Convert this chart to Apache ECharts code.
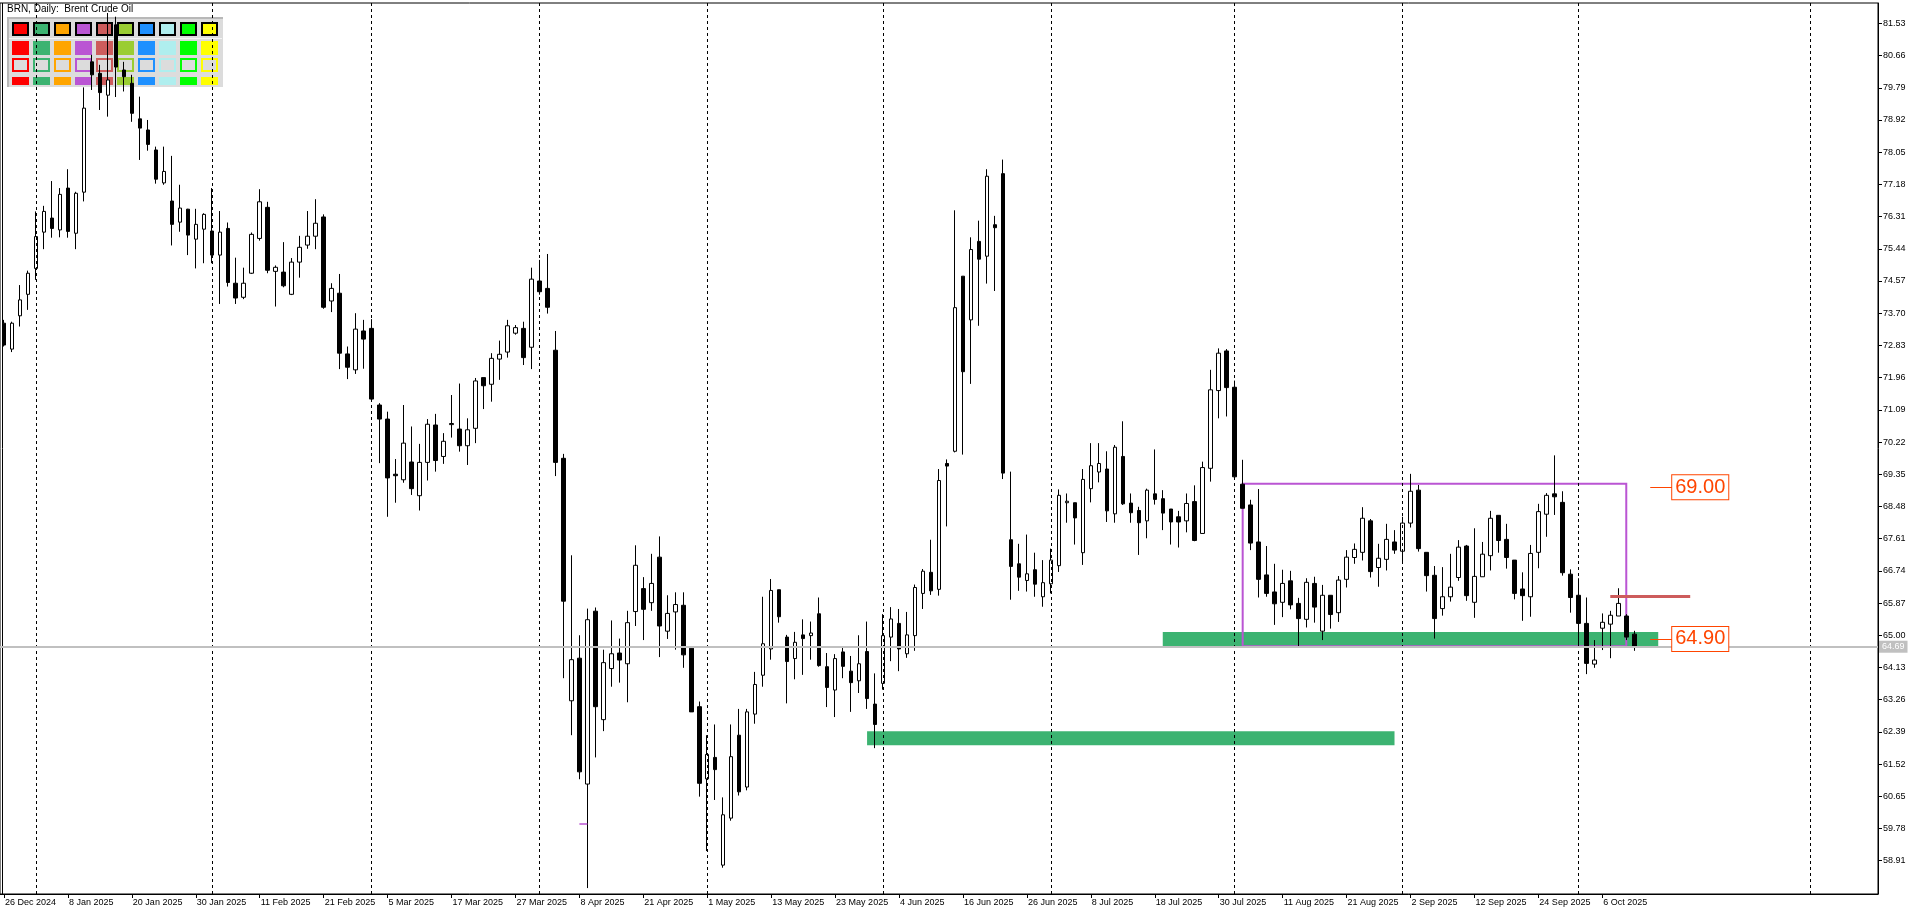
<!DOCTYPE html>
<html><head><meta charset="utf-8">
<script src="https://cdn.jsdelivr.net/npm/echarts@6/dist/echarts.min.js"></script>
<style>html,body{margin:0;padding:0;background:#fff;}#chart{width:1920px;height:915px;}</style>
</head><body><div id="chart"></div>
<script>
// ---------- data ----------
const chartTitle = 'BRN, Daily:  Brent Crude Oil';
const firstDay = '2024-12-26';
const lastDay = '2025-10-10';
const holidays = ['2025-01-01', '2025-04-18'];
const futureEnd = '2025-11-09';

const opens = [
73.43,72.73,73.63,74.21,74.91,75.89,76.27,75.95,77.08,75.86,
76.97,80.49,80.18,79.59,81.49,80.27,79.91,78.95,78.65,78.11,
77.22,76.73,76.16,76.51,75.70,75.97,75.92,75.27,75.99,74.51,
74.13,74.78,75.72,76.56,74.83,74.81,74.21,75.08,75.54,75.78,
76.30,74.03,74.24,72.60,72.17,73.22,73.29,71.22,70.84,69.35,
69.20,69.68,68.77,69.67,70.68,69.83,70.69,70.57,70.12,70.59,
71.96,71.78,72.46,72.65,73.16,73.29,72.78,74.57,74.37,72.70,
69.78,63.23,64.38,60.98,65.65,62.72,64.10,64.52,64.23,65.64,
66.26,65.88,67.11,65.11,65.63,65.81,64.65,63.07,61.12,61.70,
58.79,60.06,62.30,60.90,62.87,63.92,64.63,66.23,64.95,64.37,
65.01,64.99,65.58,64.15,63.52,64.55,64.03,63.77,64.56,63.14,
63.70,64.95,65.32,64.50,64.99,66.13,66.70,66.24,69.64,69.97,
74.70,73.52,75.64,75.24,76.09,77.47,67.58,66.93,66.48,66.77,
66.04,66.39,66.88,68.58,68.58,67.23,68.96,69.41,69.49,68.28,
69.83,68.57,68.37,68.09,68.82,68.69,68.41,68.20,68.09,68.61,
67.75,69.51,71.61,72.68,71.70,69.08,68.52,67.52,66.63,66.17,
65.89,66.47,65.86,65.43,66.40,65.11,66.08,65.61,66.51,67.10,
67.24,68.09,66.83,67.05,67.52,67.27,68.03,68.92,67.24,66.62,
65.72,66.04,66.56,67.41,65.89,66.58,67.15,68.24,67.59,67.03,
66.25,66.04,67.24,68.27,68.82,68.59,66.65,66.08,65.32,64.22,
65.19,65.30,65.52,65.52,65.03];
const highs = [
73.52,73.47,74.46,74.85,76.45,76.60,77.27,77.08,77.59,76.98,
79.80,80.68,80.41,81.81,81.71,80.49,80.14,79.55,78.92,78.20,
78.20,77.95,77.17,76.52,76.52,76.40,77.08,76.46,76.15,75.20,
74.93,75.88,77.05,76.71,74.99,75.62,75.19,75.79,76.46,76.78,
76.37,74.51,74.76,72.80,73.70,73.52,73.54,71.27,71.04,69.76,
71.22,70.64,70.17,70.84,70.98,70.46,71.49,71.80,70.86,71.95,
71.96,72.62,72.96,73.52,73.38,73.47,74.93,75.14,75.30,73.22,
69.90,67.16,65.00,65.72,65.75,64.61,65.40,64.91,65.66,67.43,
66.57,67.20,67.67,66.08,66.16,66.16,64.69,63.21,62.30,62.59,
60.62,62.59,63.01,63.01,64.01,66.04,66.52,66.23,65.01,65.09,
65.43,65.37,66.02,64.52,64.49,64.66,64.44,65.00,65.37,63.97,
65.57,65.76,65.71,65.63,66.37,66.79,67.58,69.49,69.75,76.48,
74.70,75.75,76.20,77.59,76.33,77.85,69.42,67.47,67.72,67.23,
67.03,67.34,68.94,68.83,68.58,69.49,70.19,70.19,69.97,70.14,
70.78,68.83,68.47,68.96,70.02,68.92,68.41,68.36,68.83,69.05,
69.69,72.17,72.75,72.73,71.88,69.74,68.66,68.95,67.41,66.93,
66.77,66.74,66.01,66.54,66.58,66.36,66.08,66.60,67.30,67.48,
68.46,68.14,67.47,68.01,67.84,68.20,69.36,69.06,67.24,66.87,
66.84,67.20,67.57,67.44,67.89,67.52,68.36,68.24,68.01,67.03,
66.70,67.44,68.55,68.84,69.86,68.89,66.78,66.54,66.02,64.87,
65.59,65.66,66.27,65.57,65.12];
const lows = [
72.80,72.65,73.34,73.79,74.60,75.43,75.74,75.75,75.74,75.43,
76.72,79.73,79.19,79.01,79.54,79.69,78.87,77.84,78.09,77.20,
77.17,75.53,75.90,75.27,74.91,75.05,75.05,73.95,74.42,73.95,
74.08,74.76,75.66,74.78,73.88,74.40,74.19,74.66,75.44,75.43,
73.82,73.73,72.19,71.92,72.06,72.20,71.36,69.65,68.20,68.58,
69.12,68.79,68.37,69.18,69.42,69.63,70.34,69.96,69.60,70.19,
71.11,71.31,71.90,72.50,73.12,72.30,72.19,74.20,73.69,69.30,
63.84,62.30,61.11,58.17,61.70,62.41,63.61,63.72,63.19,65.25,
64.87,65.66,64.41,64.90,64.61,64.12,62.93,60.64,59.17,60.55,
58.72,59.99,60.67,60.81,62.61,63.61,64.34,65.34,63.16,63.81,
63.93,64.34,64.15,63.06,62.79,63.84,62.93,63.44,63.01,61.95,
63.53,64.30,64.03,64.39,64.58,65.71,66.09,66.07,67.94,69.94,
69.88,71.79,73.36,74.50,74.30,69.22,65.96,66.20,66.18,66.04,
65.77,66.13,66.71,68.04,67.45,66.90,68.59,69.13,68.06,68.04,
68.52,68.04,67.17,67.62,68.53,67.84,67.45,67.37,67.78,67.54,
67.75,69.15,70.86,70.91,69.24,68.43,67.30,66.02,66.04,65.28,
65.49,65.70,64.71,65.21,65.34,64.87,65.18,65.36,66.29,66.93,
67.02,66.56,66.31,66.75,67.20,66.96,67.91,67.26,66.18,64.91,
65.53,65.91,66.47,65.93,65.47,66.58,66.75,67.23,66.80,65.97,
65.39,65.50,66.81,67.66,68.25,66.61,65.61,64.69,63.95,64.12,
64.60,64.38,65.52,64.87,64.58];
const closes = [
72.84,73.43,74.06,74.78,75.77,76.45,75.99,76.91,75.91,76.94,
79.24,80.14,79.66,80.00,80.35,80.09,79.10,78.70,78.26,77.32,
77.53,76.10,76.54,75.81,76.10,76.37,75.27,75.89,74.53,74.11,
74.51,75.83,76.71,74.86,74.94,74.44,75.08,75.48,75.78,76.13,
73.86,74.37,72.62,72.24,73.27,73.00,71.38,70.84,69.25,69.31,
70.19,68.96,69.67,70.70,69.72,70.24,70.72,70.12,70.55,71.87,
71.74,72.48,72.59,73.36,73.31,72.50,74.62,74.28,73.86,69.67,
65.92,64.34,61.31,65.42,63.07,64.26,64.50,64.33,65.34,66.89,
65.70,66.40,65.25,65.59,65.83,64.47,62.93,61.00,61.78,61.37,
60.15,61.72,60.77,62.93,63.67,64.77,66.21,65.50,64.29,64.81,
64.91,65.06,64.18,63.59,64.37,64.16,63.72,64.23,63.29,62.59,
64.99,65.44,64.63,65.01,66.29,66.73,66.20,69.18,69.57,73.85,
72.12,75.42,75.16,77.40,76.01,69.38,66.86,66.57,66.66,66.38,
66.42,67.03,68.78,68.62,68.17,69.21,69.58,69.64,68.36,70.08,
68.55,68.31,68.04,68.92,68.67,68.30,68.06,68.06,68.56,67.56,
69.53,71.63,72.62,71.69,69.28,68.43,67.49,66.51,66.13,65.85,
66.40,65.82,65.45,66.43,65.76,66.08,65.56,66.49,67.11,67.32,
68.16,66.72,67.08,67.59,67.30,68.03,68.89,67.34,66.61,65.45,
66.04,66.30,67.38,66.07,66.59,67.19,68.16,67.56,67.10,66.13,
66.07,67.21,68.34,68.78,68.74,66.69,66.02,65.32,64.24,64.33,
65.35,65.54,65.86,64.95,64.69];

const yTickLabels = ['58.91','59.78','60.65','61.52','62.39','63.26','64.13','65.00','65.87',
  '66.74','67.61','68.48','69.35','70.22','71.09','71.96','72.83','73.70','74.57','75.44',
  '76.31','77.18','78.05','78.92','79.79','80.66','81.53'];
const monthSeparators = ['2 Jan 2025','3 Feb 2025','3 Mar 2025','1 Apr 2025','1 May 2025',
  '2 Jun 2025','1 Jul 2025','1 Aug 2025','1 Sep 2025','1 Oct 2025','1 Nov 2025'];
const supportZones = [
  {from: '29 May 2025', to: '29 Aug 2025', low: 62.03, high: 62.41},
  {from: '21 Jul 2025', to: '13 Oct 2025', low: 64.71, high: 65.09}
];
const rangeBox = {from: '4 Aug 2025', to: '9 Oct 2025', low: 64.70, high: 69.09};
const resistanceMark = {from: '7 Oct 2025', to: '17 Oct 2025', value: 66.05};
const priceTags = [
  {from: '12 Oct 2025', to: '15 Oct 2025', value: 69.00},
  {from: '12 Oct 2025', to: '15 Oct 2025', value: 64.90}
];
const pivotTick = {from: '8 Apr 2025', to: '9 Apr 2025', value: 59.91};
const bidPrice = 64.69;
const paletteColors = ['#FF0000','#3CB371','#FFA500','#BA55D3','#CD5C5C','#9ACD32','#1E90FF','#AFEEEE','#00FF00','#FFFF00'];

// ---------- build ----------
const MON = ['Jan','Feb','Mar','Apr','May','Jun','Jul','Aug','Sep','Oct','Nov','Dec'];
function fmt(d){ return d.getUTCDate() + ' ' + MON[d.getUTCMonth()] + ' ' + d.getUTCFullYear(); }
function dayList(from, to, tradingOnly){
  const out = [];
  let d = new Date(from + 'T00:00:00Z');
  const end = new Date(to + 'T00:00:00Z');
  while (d <= end) {
    const wd = d.getUTCDay();
    const iso = d.toISOString().slice(0, 10);
    if (!tradingOnly || (wd !== 0 && wd !== 6 && holidays.indexOf(iso) < 0)) out.push(fmt(d));
    d = new Date(d.getTime() + 86400000);
  }
  return out;
}
const tradingDays = dayList(firstDay, lastDay, true);
const nextDay = new Date(new Date(lastDay + 'T00:00:00Z').getTime() + 86400000).toISOString().slice(0,10);
const futureDays = dayList(nextDay, futureEnd, false);
const categories = tradingDays.concat(futureDays);
const ohlc = opens.map((o, i) => [o, closes[i], lows[i], highs[i]]);
const yVals = yTickLabels.map(Number);
const showDate = (idx) => idx < tradingDays.length && idx % 8 === 0;

const FONT = 'Liberation Sans';
const tagColor = '#FF4500';

const markLineData = [];
monthSeparators.forEach(m => markLineData.push({
  xAxis: m, lineStyle: {color: '#000', width: 1, type: [3, 3]}, label: {show: false}
}));
markLineData.push({
  yAxis: bidPrice, lineStyle: {color: '#C0C0C0', width: 2, type: 'solid'},
  label: {show: true, position: 'end', distance: 1, formatter: p => p.value.toFixed(2),
    backgroundColor: '#C0C0C0', color: '#fff', fontSize: 9, fontFamily: FONT, padding: [2, 3, 1, 3]}
});
markLineData.push([
  {coord: [resistanceMark.from, resistanceMark.value], lineStyle: {color: '#CD5C5C', width: 3, type: 'solid'}, label: {show: false}},
  {coord: [resistanceMark.to, resistanceMark.value]}
]);
markLineData.push([
  {coord: [pivotTick.from, pivotTick.value], lineStyle: {color: '#BA55D3', width: 1.5, type: 'solid'}, label: {show: false}},
  {coord: [pivotTick.to, pivotTick.value]}
]);
priceTags.forEach(t => markLineData.push([
  {coord: [t.from, t.value], value: t.value, lineStyle: {color: tagColor, width: 1, type: 'solid'},
   label: {show: true, position: 'end', distance: -2, formatter: t.value.toFixed(2), color: tagColor,
     fontSize: 20, fontFamily: FONT, borderColor: tagColor, borderWidth: 1, backgroundColor: '#fff',
     padding: [3, 3, 1, 3]}},
  {coord: [t.to, t.value]}
]));

const markAreaData = supportZones.map(z => [
  {xAxis: z.from, yAxis: z.high, itemStyle: {color: '#3CB371', borderWidth: 0}},
  {xAxis: z.to, yAxis: z.low}
]);
markAreaData.push([
  {xAxis: rangeBox.from, yAxis: rangeBox.high, itemStyle: {color: 'rgba(0,0,0,0)', borderColor: '#BA55D3', borderWidth: 2}},
  {xAxis: rangeBox.to, yAxis: rangeBox.low}
]);

// palette widget (decoration)
const panel = [];
panel.push({type: 'rect', shape: {x: 7, y: 17, width: 216, height: 70}, style: {fill: '#DCDCDC'}, z: 0});
panel.push({type: 'rect', shape: {x: 7, y: 17, width: 216, height: 2}, style: {fill: '#B8B8B8'}, z: 0});
panel.push({type: 'rect', shape: {x: 7, y: 17, width: 2, height: 70}, style: {fill: '#B8B8B8'}, z: 0});
panel.push({type: 'rect', shape: {x: 9, y: 38, width: 213, height: 1}, style: {fill: '#F4F4F4'}, z: 0});
paletteColors.forEach((c, k) => {
  const x = 12 + 21 * k;
  panel.push({type: 'rect', shape: {x: x + 1, y: 23, width: 15, height: 12}, style: {fill: c, stroke: '#000', lineWidth: 2}, z: 0});
  panel.push({type: 'rect', shape: {x: x, y: 41, width: 17, height: 14}, style: {fill: c}, z: 0});
  panel.push({type: 'rect', shape: {x: x + 1, y: 59, width: 15, height: 12}, style: {fill: '#DCDCDC', stroke: c, lineWidth: 2}, z: 0});
  panel.push({type: 'rect', shape: {x: x, y: 77, width: 17, height: 8}, style: {fill: c}, z: 0});
});
panel.push({type: 'text', left: 7, top: 4, style: {text: chartTitle, fill: '#000', font: '10px "' + FONT + '"'}, z: 0});
panel.push({type: 'line', shape: {x1: 2.5, y1: 3, x2: 2.5, y2: 894}, style: {stroke: '#000', lineWidth: 1}, z: 5});

const chart = echarts.init(document.getElementById('chart'), null, {renderer: 'canvas'});
chart.setOption({
  animation: false,
  backgroundColor: '#fff',
  grid: {left: -2, top: 3, width: 1880, height: 891, show: true, borderColor: '#000', borderWidth: 1, backgroundColor: 'rgba(0,0,0,0)'},
  xAxis: {
    type: 'category', data: categories, boundaryGap: true,
    axisLine: {show: true, lineStyle: {color: '#000', width: 1}},
    axisTick: {show: true, alignWithLabel: true, interval: showDate, length: 4, lineStyle: {color: '#000'}},
    axisLabel: {show: true, interval: showDate, align: 'left', fontSize: 9, fontFamily: FONT, color: '#000', margin: 4, padding: [0, 0, 0, 1]},
    splitLine: {show: false}
  },
  yAxis: {
    type: 'value', position: 'right', min: 58.01, max: 82.08,
    axisLine: {show: true, lineStyle: {color: '#000', width: 1}},
    axisTick: {show: true, customValues: yVals, length: 4, lineStyle: {color: '#000'}},
    axisLabel: {show: true, customValues: yVals, formatter: v => v.toFixed(2), fontSize: 9, fontFamily: FONT, color: '#000', margin: 5},
    splitLine: {show: false}
  },
  graphic: panel,
  series: [
    {
      name: 'annotations', type: 'line', data: [], z: 1, silent: true, symbol: 'none',
      markArea: {silent: true, data: markAreaData},
      markLine: {silent: true, symbol: ['none', 'none'], animation: false, data: markLineData}
    },
    {
      name: 'BRN', type: 'candlestick', data: ohlc, z: 3, barWidth: 4,
      itemStyle: {color: '#fff', color0: '#000', borderColor: '#000', borderColor0: '#000', borderColorDoji: '#000', borderWidth: 1}
    }
  ]
});
</script>
</body></html>
